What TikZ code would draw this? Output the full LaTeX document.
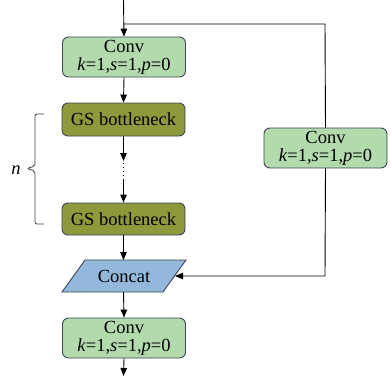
\documentclass[tikz,border=0pt]{standalone}
\usepackage{fontspec}
\setmainfont{Liberation Serif}
\usetikzlibrary{arrows.meta}
\definecolor{convg}{HTML}{B2DAAD}
\definecolor{gsol}{HTML}{8E993B}
\definecolor{catb}{HTML}{93B8DC}
\definecolor{bord}{HTML}{3A4656}
\tikzset{
  box/.style={draw=bord, line width=0.9pt, rounded corners=6pt, minimum width=123pt, align=center, inner sep=0pt, font=\fontsize{18.5}{19}\selectfont},
  convbox/.style={box, fill=convg, minimum height=40pt},
  gsbox/.style={box, fill=gsol, minimum height=33pt},
  arr/.style={line width=0.9pt, -{Triangle[length=8pt,width=6.5pt]}},
  ln/.style={line width=0.9pt}
}
\newcommand{\convtext}{Conv\\[-1pt]\textit{k}=1,\textit{s}=1,\textit{p}=0}
\begin{document}
\begin{tikzpicture}[x=1pt,y=-1pt]
\useasboundingbox (0,0) rectangle (391,376);
\node[convbox] (c1) at (124,57) {\convtext};
\node[gsbox] (g1) at (123.5,119.5) {GS bottleneck};
\node[gsbox, minimum height=32pt] (g2) at (123.5,219) {GS bottleneck};
\node[convbox] (c3) at (325.5,148) {\convtext};
\node[convbox] (c2) at (124,338) {\convtext};
% concat parallelogram
\draw[draw=bord, line width=0.9pt, fill=catb] (85,260) -- (186,260) -- (163,292) -- (62,292) -- cycle;
\node[font=\fontsize{18.5}{19}\selectfont] (cat) at (124,276) {Concat};
\coordinate (catT) at (123.5,260);
\coordinate (catB) at (123.5,292);
\coordinate (catR) at (175,276);
\coordinate (top) at (123.5,0);
\coordinate (bot) at (123.5,376);
\coordinate (br) at (123.5,24);
\coordinate (rt) at (325,24);
\coordinate (rb) at (325,276);
\coordinate (d1) at (123.5,161);
\coordinate (d2) at (123.5,163);
\coordinate (d3) at (123.5,179);
% main path
\draw[arr] (top) -- (c1.north);
\draw[arr] (c1.south) -- (g1.north);
\draw[arr] (g1.south) -- (d1);
\draw[line width=1.4pt, dash pattern=on 1.4pt off 2.6pt] (d2) -- (d3);
\draw[arr] (d3) -- (g2.north);
\draw[arr] (g2.south) -- (catT);
\draw[arr] (catB) -- (c2.north);
\draw[arr] (c2.south) -- (bot);
% side branch
\draw[ln] (br) -- (rt) -- (c3.north);
\draw[arr] (c3.south) -- (rb) -- (catR);
% bracket
\draw[line width=0.8pt, draw=black!75, rounded corners=2pt] (44,114) -- (35,114) -- (35,166) -- (27,168.5) -- (35,171) -- (35,224) -- (44,224);
\node[font=\fontsize{18.5}{19}\selectfont\itshape] (n) at (16,170) {n};
\end{tikzpicture}
\end{document}
